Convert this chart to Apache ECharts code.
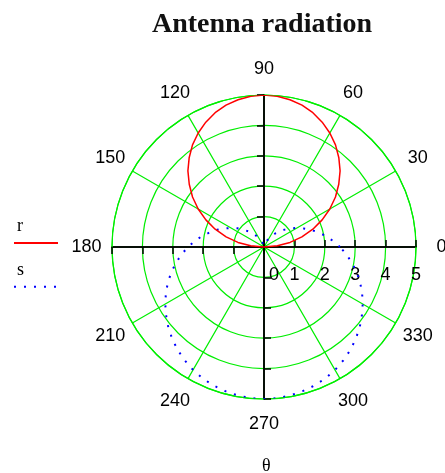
<!DOCTYPE html>
<html><head><meta charset="utf-8">
<script src="https://cdn.jsdelivr.net/npm/echarts@6/dist/echarts.min.js"></script>
<style>html,body{margin:0;padding:0;background:#fff}#c{width:445px;height:473px}</style>
</head><body><div id="c"></div>
<script>
const titleText = 'Antenna radiation';
const angleName = 'θ';
const seriesNames = ['r', 's'];
// angles (degrees) and radii
const thetaR = [0,5,10,15,20,25,30,35,40,45,50,55,60,65,70,75,80,85,90,95,100,105,110,115,120,125,130,135,140,145,150,155,160,165,170,175,180];
const rValues = [0,0.44,0.87,1.29,1.71,2.11,2.5,2.87,3.21,3.54,3.83,4.10,4.33,4.53,4.70,4.83,4.92,4.98,5,4.98,4.92,4.83,4.70,4.53,4.33,4.10,3.83,3.54,3.21,2.87,2.5,2.11,1.71,1.29,0.87,0.44,0];
const thetaS = [0,5,10,15,20,25,30,35,40,45,50,55,60,65,70,75,80,85,90,95,100,105,110,115,120,125,130,135,140,145,150,155,160,165,170,175,180,185,190,195,200,205,210,215,220,225,230,235,240,245,250,255,260,265,270,275,280,285,290,295,300,305,310,315,320,325,330,335,340,345,350,355,360];
const sValues = [2.5,2.28,2.07,1.85,1.65,1.44,1.25,1.07,0.89,0.73,0.59,0.45,0.33,0.23,0.15,0.09,0.04,0.01,0,0.01,0.04,0.09,0.15,0.23,0.33,0.45,0.59,0.73,0.89,1.07,1.25,1.44,1.65,1.85,2.07,2.28,2.5,2.72,2.93,3.15,3.36,3.56,3.75,3.93,4.11,4.27,4.42,4.55,4.67,4.77,4.85,4.91,4.96,4.99,5,4.99,4.96,4.91,4.85,4.77,4.67,4.55,4.42,4.27,4.11,3.93,3.75,3.56,3.36,3.15,2.93,2.72,2.5];
const angleMin = 0, angleMax = 360, angleStep = 30;
const radiusMin = 0, radiusMax = 5, radiusStep = 1;

const GREEN = '#00ee00';
const SANS = 'Liberation Sans';
const SERIF = 'Liberation Serif';
const CENTER = [264, 247];
const RADIUS = 152;

const polars = [{center: CENTER, radius: RADIUS}];
const angleAxes = [{
  polarIndex: 0, type: 'value', min: angleMin, max: angleMax, interval: angleStep,
  startAngle: 0, clockwise: false,
  axisLine: {lineStyle: {color: GREEN, width: 1.2}},
  axisTick: {show: false},
  splitLine: {show: true, lineStyle: {color: GREEN, width: 1.2}},
  axisLabel: {
    margin: 25, color: '#000', fontFamily: SANS, fontSize: 18,
    formatter: v => '{a|' + v + '}',
    rich: {a: {width: 1, height: 1, lineHeight: 1, align: 'center', fontFamily: SANS, fontSize: 18, color: '#000'}}
  }
}];
const radiusAxes = [{
  polarIndex: 0, type: 'value', min: radiusMin, max: radiusMax, interval: radiusStep,
  axisLine: {lineStyle: {color: '#000', width: 1.5}},
  axisTick: {show: true, length: 7, lineStyle: {color: '#000', width: 1.5}},
  splitLine: {show: true, lineStyle: {color: GREEN, width: 1.2}},
  axisLabel: {
    margin: -29, color: '#000', fontFamily: SANS, fontSize: 18,
    formatter: v => v === 0 ? '{z|0}' : '{a|' + v + '}',
    rich: {
      a: {width: 1, height: 1, lineHeight: 1, align: 'center', fontFamily: SANS, fontSize: 18, color: '#000'},
      z: {width: 1, height: 1, lineHeight: 1, align: 'center', padding: [0, 0, 0, 20], fontFamily: SANS, fontSize: 18, color: '#000'}
    }
  }
}];
// black cross axes with ticks on both sides
const extra = [[0, true], [90, false], [90, true], [180, false], [180, true], [270, false], [270, true]];
extra.forEach(([dir, inside], i) => {
  const pi = i + 1;
  polars.push({center: CENTER, radius: RADIUS});
  angleAxes.push({polarIndex: pi, type: 'value', min: angleMin, max: angleMax, interval: angleStep,
    startAngle: dir, clockwise: false,
    axisLine: {show: false}, axisTick: {show: false}, axisLabel: {show: false}, splitLine: {show: false}});
  radiusAxes.push({polarIndex: pi, type: 'value', min: radiusMin, max: radiusMax, interval: radiusStep,
    axisLine: {lineStyle: {color: '#000', width: 1.5}},
    axisTick: {show: true, inside: inside, length: 7, lineStyle: {color: '#000', width: 1.5}},
    axisLabel: {show: false}, splitLine: {show: false}});
});

const chart = echarts.init(document.getElementById('c'), null, {renderer: 'canvas', width: 445, height: 473});
chart.setOption({
  animation: false,
  backgroundColor: '#fff',
  title: [
    {text: titleText, left: 152, top: 11, padding: 0,
     textStyle: {fontFamily: SERIF, fontWeight: 'bold', fontSize: 28, color: '#111'}},
    {text: angleName, left: 262, top: 457, padding: 0,
     textStyle: {fontFamily: SERIF, fontWeight: 'normal', fontSize: 18, color: '#000'}}
  ],
  legend: [
    {data: seriesNames, orient: 'vertical', left: 13, top: 237, padding: 0, itemWidth: 44, itemHeight: 12, itemGap: 33,
     itemStyle: {opacity: 0}, formatter: () => '', textStyle: {fontSize: 1}, selectedMode: false},
    {data: seriesNames, orient: 'vertical', left: 12, top: 216, padding: 0, icon: 'none', itemWidth: 0, itemHeight: 20, itemGap: 25,
     textStyle: {fontFamily: SERIF, fontSize: 18, color: '#000'}, selectedMode: false}
  ],
  polar: polars,
  angleAxis: angleAxes,
  radiusAxis: radiusAxes,
  series: [
    {name: seriesNames[0], type: 'line', coordinateSystem: 'polar', polarIndex: 0,
     data: thetaR.map((t, i) => [rValues[i], t]), symbol: 'none', showSymbol: false, z: 5,
     lineStyle: {color: '#ff0000', width: 1.5}, itemStyle: {color: '#ff0000'}},
    {name: seriesNames[1], type: 'line', coordinateSystem: 'polar', polarIndex: 0,
     data: thetaS.map((t, i) => [sValues[i], t]), symbol: 'none', showSymbol: false, z: 4,
     lineStyle: {color: '#0000ff', width: 2, type: [2, 8]}, itemStyle: {color: '#0000ff'}}
  ]
});
</script></body></html>
